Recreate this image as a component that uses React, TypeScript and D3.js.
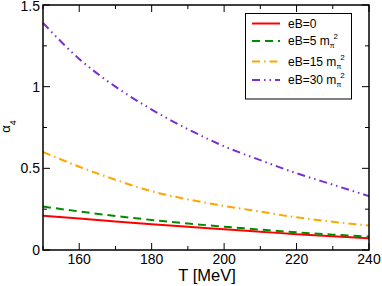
import React, { useEffect, useRef } from 'react';
import * as d3 from 'd3';

const temps = [150, 160, 170, 180, 190, 200, 210, 220, 230, 240];
const eb0 = [0.21, 0.193, 0.175, 0.158, 0.142, 0.127, 0.112, 0.097, 0.084, 0.072];
const eb5 = [0.266, 0.236, 0.208, 0.184, 0.162, 0.143, 0.125, 0.108, 0.094, 0.082];
const eb15 = [0.6, 0.51, 0.43, 0.36, 0.31, 0.27, 0.235, 0.2, 0.173, 0.15];
const eb30 = [1.39, 1.17, 1.0, 0.86, 0.74, 0.635, 0.55, 0.47, 0.4, 0.33];

const xTicks = [160, 180, 200, 220, 240];
const yTicks = [0, 0.5, 1, 1.5];

const series = [
  { name: 'eB=0', sup: false, values: eb0, color: '#ff0000', dash: null },
  { name: 'eB=5 m', sup: true, values: eb5, color: '#008c00', dash: '8,5' },
  { name: 'eB=15 m', sup: true, values: eb15, color: '#ffa500', dash: '8,4,1.5,4' },
  { name: 'eB=30 m', sup: true, values: eb30, color: '#7a2fd0', dash: '8,4,1.5,4,1.5,4' },
];

export default function App() {
  const ref = useRef<SVGSVGElement>(null);

  useEffect(() => {
    const svg = d3.select(ref.current);
    svg.selectAll('*').remove();
    const margin = { left: 43, right: 13, top: 5, bottom: 36 };
    const W = 382, H = 286;
    const width = W - margin.left - margin.right;
    const height = H - margin.top - margin.bottom;

    const x = d3.scaleLinear().domain([150, 240]).range([0, width]);
    const y = d3.scaleLinear().domain([0, 1.5]).range([height, 0]);

    const g = svg.append('g').attr('transform', `translate(${margin.left},${margin.top})`);
    const font = 'Liberation Sans, Arial, sans-serif';

    // lines
    const line = d3.line<number>()
      .curve(d3.curveMonotoneX)
      .x((d, i) => x(temps[i]))
      .y((d) => y(d));

    series.forEach((s) => {
      g.append('path')
        .attr('d', line(s.values))
        .attr('fill', 'none')
        .attr('stroke', s.color)
        .attr('stroke-width', 2)
        .attr('stroke-dasharray', s.dash);
    });

    // ticks (inward, all four sides)
    const tk = g.append('g').attr('stroke', '#000').attr('stroke-width', 1);
    d3.range(150, 241, 10).forEach((t) => {
      const len = t % 20 === 0 ? 7 : 4;
      tk.append('line').attr('x1', x(t)).attr('x2', x(t)).attr('y1', height).attr('y2', height - len);
      tk.append('line').attr('x1', x(t)).attr('x2', x(t)).attr('y1', 0).attr('y2', len);
    });
    d3.range(0, 1.51, 0.25).forEach((v) => {
      const len = Math.abs(v * 2 - Math.round(v * 2)) < 1e-6 ? 7 : 4;
      tk.append('line').attr('x1', 0).attr('x2', len).attr('y1', y(v)).attr('y2', y(v));
      tk.append('line').attr('x1', width).attr('x2', width - len).attr('y1', y(v)).attr('y2', y(v));
    });

    // frame
    g.append('rect')
      .attr('width', width).attr('height', height)
      .attr('fill', 'none').attr('stroke', '#000').attr('stroke-width', 1.5);

    // tick labels
    g.selectAll('.xl').data(xTicks).enter().append('text')
      .attr('x', (d) => x(d)).attr('y', height + 14)
      .attr('text-anchor', 'middle').attr('font-family', font).attr('font-size', 14)
      .text((d) => d);
    g.selectAll('.yl').data(yTicks).enter().append('text')
      .attr('x', -3).attr('y', (d) => Math.max(y(d) + 5, 6))
      .attr('text-anchor', 'end').attr('font-family', font).attr('font-size', 14)
      .text((d) => d);

    // axis titles
    g.append('text')
      .attr('x', width / 2 + 1).attr('y', height + 31)
      .attr('text-anchor', 'middle').attr('font-family', font).attr('font-size', 16.5)
      .text('T [MeV]');
    const yl = svg.append('text')
      .attr('transform', `translate(10,${margin.top + height / 2 - 1}) rotate(-90)`)
      .attr('text-anchor', 'middle').attr('font-family', font).attr('font-size', 13);
    yl.append('tspan').text('α');
    yl.append('tspan').attr('font-size', 9).attr('dy', 6).text('4');

    // legend
    const lg = svg.append('g');
    lg.append('rect')
      .attr('x', 245.5).attr('y', 13.5).attr('width', 106).attr('height', 85.5)
      .attr('fill', '#fff').attr('stroke', '#000').attr('stroke-width', 1);
    const rows = [23.5, 41, 61.5, 80];
    series.forEach((s, i) => {
      lg.append('line')
        .attr('x1', 252).attr('x2', 280).attr('y1', rows[i]).attr('y2', rows[i])
        .attr('stroke', s.color).attr('stroke-width', 2).attr('stroke-dasharray', s.dash);
      const t = lg.append('text')
        .attr('x', 288).attr('y', rows[i] + 4)
        .attr('font-family', font).attr('font-size', 12);
      t.append('tspan').text(s.name);
      if (s.sup) {
        t.append('tspan').attr('font-size', 7).attr('dy', 3).text('π');
        t.append('tspan').attr('font-size', 8).attr('dy', -9).attr('dx', -1).text('2');
      }
    });
  }, []);

  return (
    <svg ref={ref} width={382} height={286} style={{ position: 'absolute', left: 0, top: 0 }} />
  );
}
